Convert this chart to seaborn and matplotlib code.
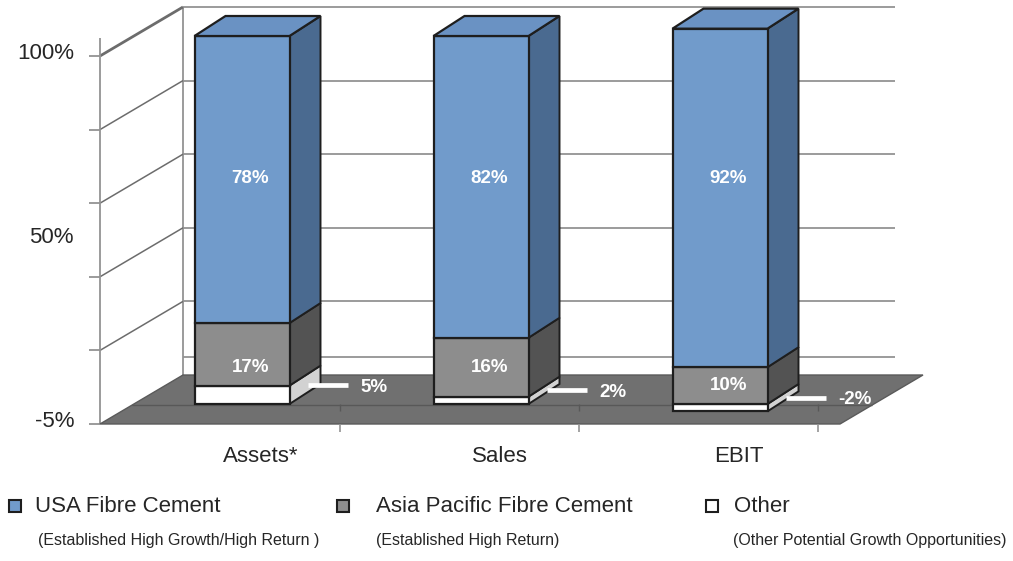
import matplotlib
matplotlib.use("Agg")
import matplotlib.pyplot as plt
from matplotlib.patches import Polygon, Rectangle
import seaborn as sns

# ---- data -------------------------------------------------------------
categories = ["Assets*", "Sales", "EBIT"]
usa = [78, 82, 92]
asia = [17, 16, 10]
other = [5, 2, -2]

series_names = ["USA Fibre Cement", "Asia Pacific Fibre Cement", "Other"]
series_notes = ["(Established High Growth/High Return )",
                "(Established High Return)",
                "(Other Potential Growth Opportunities)"]

axis_labels = ["100%", "50%", "-5%"]
axis_label_values = [100, 50, 0]
front_ticks = [0, 20, 40, 60, 80, 100]
wall_lines = [100, 80, 60, 40, 20, 5]

# ---- styling ----------------------------------------------------------
sns.set_theme(style="white")
plt.rcParams["font.family"] = ["Liberation Sans", "DejaVu Sans"]

BLUE_FRONT, BLUE_SIDE, BLUE_TOP = "#719bcb", "#4a6a90", "#6a92c3"
GRAY_FRONT, GRAY_SIDE = "#8d8d8d", "#535353"
WHITE_FRONT, WHITE_SIDE = "#ffffff", "#d2d2d2"
EDGE = "#1e1e1e"
FLOOR = "#707070"
GRID = "#939393"
TEXT = "#262626"

W, H = 1013, 561
fig = plt.figure(figsize=(W / 100, H / 100), dpi=100)
ax = fig.add_axes([0, 0, 1, 1])

# data units: category index along x, percent along y (bar front plane)
PX_CAT, PX_PCT = 239.0, 3.68
X0_PX, Y0_PX = 242.0, 404.0

# depth of the box (front plane -> back wall) and of each bar
DEPTH_DX, DEPTH_DY = 83 / PX_CAT, 49 / PX_PCT
PLANE_DY = -20 / PX_PCT
BAR_W = 95 / PX_CAT
BAR_DX, BAR_DY = 31 / PX_CAT, 20 / PX_PCT

CF_LEFT = (100 - X0_PX) / PX_CAT
CF_FLOOR_RIGHT = (840 - X0_PX) / PX_CAT
CF_WALL_RIGHT = (895 - 83 - X0_PX) / PX_CAT


def proj(cf, v, d):
    """Point on the box: front-plane x, value, depth (0 front .. 1 back)."""
    return (cf + d * DEPTH_DX, v + PLANE_DY + d * DEPTH_DY)


def line(p, q, **kw):
    ax.plot([p[0], q[0]], [p[1], q[1]], solid_capstyle="butt", **kw)


# ---- back wall, side lines, floor ------------------------------------
for g in wall_lines:
    line(proj(CF_LEFT, g, 1), proj(CF_WALL_RIGHT, g, 1), color=GRID, lw=1.3, zorder=1)
line(proj(CF_LEFT, 0, 1), proj(CF_LEFT, 100, 1), color=GRID, lw=1.3, zorder=1)
for g in front_ticks[1:]:
    line(proj(CF_LEFT, g, 0), proj(CF_LEFT, g, 1), color="#6c6c6c",
         lw=2.0 if g == 100 else 1.1, zorder=1)
line(proj(CF_LEFT, 0, 0), proj(CF_LEFT, 105, 0), color=GRID, lw=1.3, zorder=1)
for g in front_ticks:
    line(proj(CF_LEFT - 11 / PX_CAT, g, 0), proj(CF_LEFT, g, 0), color=GRID, lw=1.3, zorder=1)

floor = Polygon([proj(CF_LEFT, 0, 0), proj(CF_FLOOR_RIGHT, 0, 0),
                 proj(CF_FLOOR_RIGHT, 0, 1), proj(CF_LEFT, 0, 1)],
                closed=True, facecolor=FLOOR, edgecolor="#5a5a5a", lw=1.0, zorder=2)
ax.add_patch(floor)
line(proj(CF_LEFT, 0, 0.39), proj(CF_FLOOR_RIGHT, 0, 0.39), color="#585858", lw=1.0, zorder=2)

for i in range(len(categories)):
    tx = i + 0.41
    line((tx, PLANE_DY), (tx, PLANE_DY - 8 / PX_PCT), color=GRID, lw=1.2, zorder=2)
    line((tx, 0), (tx, -7 / PX_PCT), color="#585858", lw=1.0, zorder=2)

# ---- stacked bars -----------------------------------------------------
asia_bottom = [max(o, 0) for o in other]
usa_bottom = [b + a for b, a in zip(asia_bottom, asia)]
usa_top = [b + u for b, u in zip(usa_bottom, usa)]

layers = [
    (other, [0] * len(other), WHITE_FRONT, WHITE_SIDE),
    (asia, asia_bottom, GRAY_FRONT, GRAY_SIDE),
    (usa, usa_bottom, BLUE_FRONT, BLUE_SIDE),
]

for values, bottoms, fc, sc in layers:
    for i, (v, b) in enumerate(zip(values, bottoms)):
        xr = i + BAR_W / 2
        side = Polygon([(xr, b), (xr + BAR_DX, b + BAR_DY),
                        (xr + BAR_DX, b + v + BAR_DY), (xr, b + v)],
                       closed=True, facecolor=sc, edgecolor=EDGE, lw=1.4, zorder=3)
        ax.add_patch(side)
    sns.barplot(x=categories, y=values, bottom=bottoms, color=fc, saturation=1,
                width=BAR_W, edgecolor=EDGE, linewidth=1.6, errorbar=None,
                ax=ax, zorder=4)

for i, t in enumerate(usa_top):
    xl, xr = i - BAR_W / 2, i + BAR_W / 2
    top = Polygon([(xl, t), (xl + BAR_DX, t + BAR_DY), (xr + BAR_DX, t + BAR_DY), (xr, t)],
                  closed=True, facecolor=BLUE_TOP, edgecolor=EDGE, lw=1.6, zorder=4)
    ax.add_patch(top)

# ---- value labels -----------------------------------------------------
label_kw = dict(color="white", fontsize=13.5, fontweight="bold", ha="center", va="center", zorder=6)
for i in range(len(categories)):
    ax.text(i + 0.035, 61.4, f"{usa[i]}%", **label_kw)
    mid = asia_bottom[i] + asia[i] / 2
    ax.text(i + 0.035, min(mid, 9.8), f"{asia[i]}%", **label_kw)

    # callout for the small "Other" slice
    y = other[i] / 2 + BAR_DY / 2
    x0 = i + BAR_W / 2 + BAR_DX / 2 + 3 / PX_CAT
    x1 = x0 + 40 / PX_CAT
    line((x0, y), (x1, y), color="white", lw=3.4, zorder=6)
    ax.text(x1 + 12 / PX_CAT, y - 0.6, f"{other[i]}%", color="white", fontsize=13.5,
            fontweight="bold", ha="left", va="center", zorder=6)

# ---- axis labels ------------------------------------------------------
for lab, val in zip(axis_labels, axis_label_values):
    ax.text(CF_LEFT - 26 / PX_CAT, val + PLANE_DY + 0.8, lab, ha="right", va="center",
            fontsize=16, color=TEXT)

for i, cat in enumerate(categories):
    ax.text(i + 0.08, -14.4, cat, ha="center", va="center", fontsize=16, color=TEXT)

# ---- legend -----------------------------------------------------------
legend_x = [(9, 35, 38), (337, 376, 376), (706, 734, 733)]
legend_colors = [BLUE_FRONT, GRAY_FRONT, WHITE_FRONT]
for (mx, tx, nx), name, note, col in zip(legend_x, series_names, series_notes, legend_colors):
    fig.patches.append(Rectangle((mx / W, 1 - 512 / H), 12 / W, 12 / H,
                                 transform=fig.transFigure, facecolor=col,
                                 edgecolor=EDGE, lw=1.5))
    fig.text(tx / W, 1 - 507 / H, name, ha="left", va="center", fontsize=16, color=TEXT)
    fig.text(nx / W, 1 - 541 / H, note, ha="left", va="center", fontsize=11.5, color=TEXT)

ax.set_xlim(-X0_PX / PX_CAT, (W - X0_PX) / PX_CAT)
ax.set_ylim((Y0_PX - H) / PX_PCT, Y0_PX / PX_PCT)
ax.set_axis_off()

fig.savefig("out.png", dpi=100, facecolor="white")
